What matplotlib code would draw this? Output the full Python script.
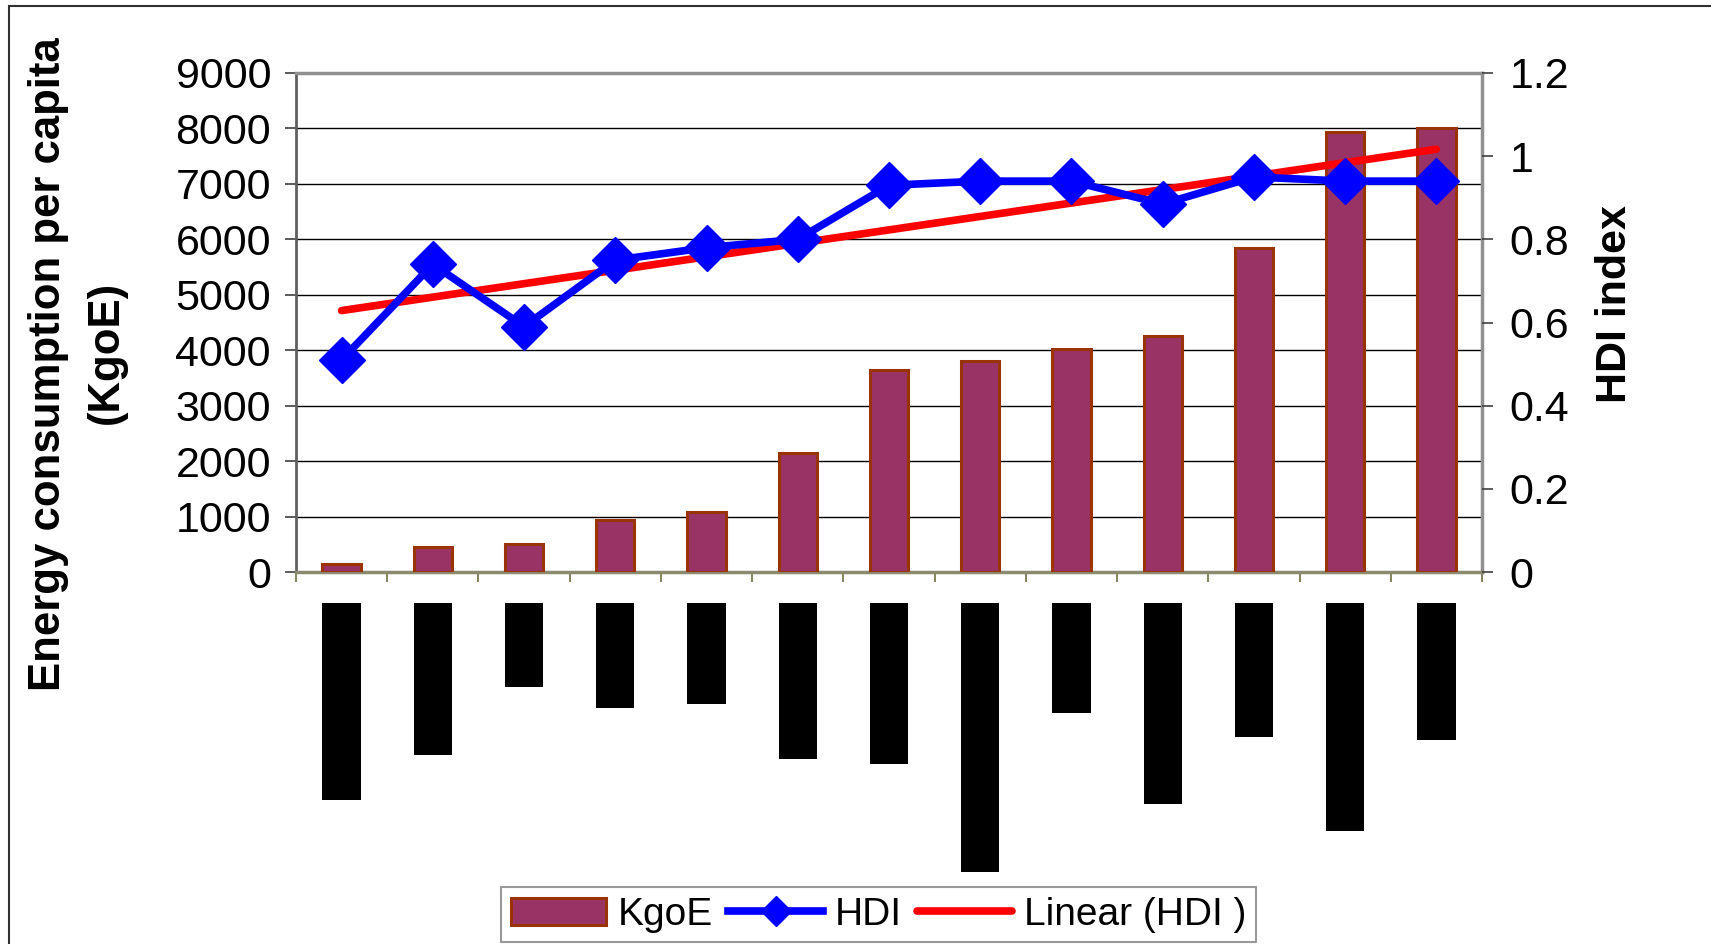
import numpy as np
import matplotlib
matplotlib.use("Agg")
import matplotlib.pyplot as plt
from matplotlib.lines import Line2D
from matplotlib.patches import Patch, Rectangle

# category labels in the source are blacked out; keep the box lengths (px)
n_cat = 13
kgoe = [150, 450, 510, 930, 1080, 2150, 3650, 3800, 4030, 4250, 5850, 7940, 8010]
hdi = [0.51, 0.74, 0.59, 0.75, 0.78, 0.80, 0.93, 0.94, 0.94, 0.885, 0.95, 0.94, 0.94]
label_box_len = [197, 152, 84, 105, 101, 156, 161, 269, 110, 201, 134, 228, 137]

left_ticks = list(range(0, 9001, 1000))
right_ticks = [0, 0.2, 0.4, 0.6, 0.8, 1, 1.2]
right_ticklabels = ["0", "0.2", "0.4", "0.6", "0.8", "1", "1.2"]

narrow = ["Liberation Sans Narrow", "Liberation Sans", "DejaVu Sans"]
bold = ["Liberation Sans", "DejaVu Sans"]

W, H = 1711, 944
fig = plt.figure(figsize=(W / 100, H / 100), dpi=100)

# outer chart frame
fig.patches.append(Rectangle((9 / W, -0.05), 1.2, 1 - 6 / H + 0.05, transform=fig.transFigure,
                             fill=False, edgecolor="#303030", linewidth=1.5))

ax_l, ax_r, ax_t, ax_b = 296 / W, 1482 / W, 1 - 73 / H, 1 - 572 / H
ax = fig.add_axes([ax_l, ax_b, ax_r - ax_l, ax_t - ax_b])
x = np.arange(n_cat)

ax.bar(x, kgoe, width=0.42, color="#993366", edgecolor="#993300", linewidth=2.2, zorder=3)
ax.set_xlim(-0.5, n_cat - 0.5)
ax.set_ylim(0, 9000)
ax.set_yticks(left_ticks)
ax.set_yticklabels([str(t) for t in left_ticks], family=narrow, fontsize=31)
ax.set_xticks(np.arange(n_cat + 1) - 0.5)
ax.set_xticklabels([])
ax.tick_params(axis="y", direction="out", length=8, width=1.2, color="#404040", pad=10)
ax.tick_params(axis="x", direction="out", length=7, width=1.2, color="#707040")
ax.grid(axis="y", color="black", linewidth=1, zorder=0)
ax.set_axisbelow(True)
for side in ["top", "right"]:
    ax.spines[side].set_color("#909090")
    ax.spines[side].set_linewidth(2.5)
ax.spines["left"].set_color("#606060")
ax.spines["left"].set_linewidth(2)
ax.spines["bottom"].set_color("#8a8a70")
ax.spines["bottom"].set_linewidth(2.5)

ax2 = ax.twinx()
slope, icpt = np.polyfit(x + 1, hdi, 1)
trend = slope * (x + 1) + icpt
ax2.plot(x, trend, color="#FF0000", linewidth=5.5, solid_capstyle="round", zorder=4)
ax2.plot(x, hdi, color="#0000FF", linewidth=5.5, marker="D", markersize=23, zorder=5)
ax2.set_ylim(0, 1.2)
ax2.set_yticks(right_ticks)
ax2.set_yticklabels(right_ticklabels, family=narrow, fontsize=31)
ax2.tick_params(axis="y", direction="out", length=8, width=1.2, color="#404040", pad=12)
for s in ax2.spines.values():
    s.set_visible(False)

# blacked-out category labels
lab_top = 603
lab_h = 300
axl = fig.add_axes([ax_l, 1 - (lab_top + lab_h) / H, ax_r - ax_l, lab_h / H])
axl.bar(x, label_box_len, width=0.42, bottom=0, color="black")
axl.set_xlim(-0.5, n_cat - 0.5)
axl.set_ylim(lab_h, 0)
axl.axis("off")

fig.text(49 / W, 1 - 364 / H, "Energy consumption per capita", rotation=90, ha="center", va="center",
         family=bold, fontweight="bold", fontsize=31.5)
fig.text(106 / W, 1 - 352 / H, "(KgoE)", rotation=90, ha="center", va="center",
         family=bold, fontweight="bold", fontsize=31.5)
fig.text(1615 / W, 1 - 304 / H, "HDI index", rotation=90, ha="center", va="center",
         family=bold, fontweight="bold", fontsize=31)

handles = [Patch(facecolor="#993366", edgecolor="#993300", linewidth=2.2),
           Line2D([], [], color="#0000FF", linewidth=5.5, marker="D", markersize=15),
           Line2D([], [], color="#FF0000", linewidth=5.5, solid_capstyle="round")]
leg = fig.legend(handles, ["KgoE", "HDI", "Linear (HDI )"], ncol=3, loc="upper left",
                 bbox_to_anchor=(501 / W, 1 - 887 / H), frameon=True, fancybox=False,
                 prop={"family": narrow, "size": 28}, handlelength=2.44, handletextpad=0.3,
                 columnspacing=0.4, borderpad=0.25, borderaxespad=0)
leg.get_frame().set_edgecolor("#808080")
leg.get_frame().set_linewidth(1.5)

fig.savefig("out.png", dpi=100)
